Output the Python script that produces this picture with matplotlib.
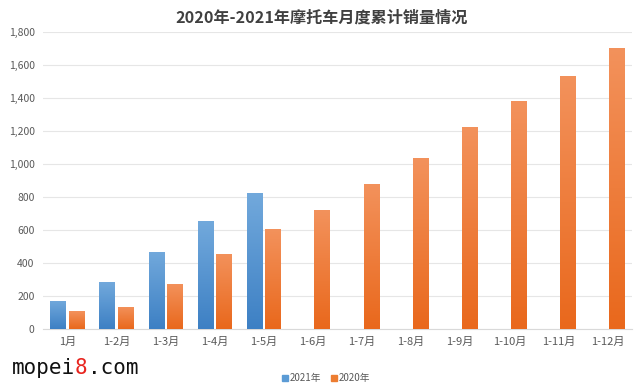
import numpy as np
import matplotlib
matplotlib.use("Agg")
import matplotlib.pyplot as plt
from matplotlib.colors import LinearSegmentedColormap
from matplotlib.patches import Patch

plt.rcParams['font.family'] = ['Noto Sans CJK SC', 'DejaVu Sans']

categories = ["1月", "1-2月", "1-3月", "1-4月", "1-5月", "1-6月", "1-7月", "1-8月", "1-9月", "1-10月", "1-11月", "1-12月"]
sales_2021 = [170, 283, 467, 652, 824, None, None, None, None, None, None, None]
sales_2020 = [109, 136, 273, 457, 605, 721, 880, 1038, 1226, 1380, 1536, 1706]
yticks = [0, 200, 400, 600, 800, 1000, 1200, 1400, 1600, 1800]

fig = plt.figure(figsize=(6.4, 3.9), dpi=100)
ax = fig.add_axes([43 / 640, 61 / 390, 589 / 640, 297 / 390])

x = np.arange(len(categories))
w = 0.32
off = 0.19

blue_cmap = LinearSegmentedColormap.from_list("b", ["#3d80c4", "#72a9dc"])
orange_cmap = LinearSegmentedColormap.from_list("o", ["#e9681c", "#f3925c"])
grad = np.linspace(0, 1, 256).reshape(-1, 1)

def grad_bars(xs, vals, cmap, base_color):
    bars = ax.bar(xs, [v if v is not None else 0 for v in vals], width=w, color=base_color, zorder=2)
    for b, v in zip(bars, vals):
        if v is None:
            b.set_visible(False)
            continue
        x0, y0 = b.get_x(), b.get_y()
        bw, bh = b.get_width(), b.get_height()
        im = ax.imshow(grad, extent=[x0, x0 + bw, y0, y0 + bh], origin="lower",
                       cmap=cmap, aspect="auto", zorder=3)
        im.set_clip_path(b)

grad_bars(x - off, sales_2021, blue_cmap, "#5b9bd5")
grad_bars(x + off, sales_2020, orange_cmap, "#ed7d31")

ax.set_xlim(-0.5, len(categories) - 0.5)
ax.set_ylim(0, 1800)
ax.set_yticks(yticks)
ax.set_yticklabels([f"{t:,}" for t in yticks], fontsize=7.5, color="#595959")
ax.set_xticks(x)
ax.set_xticklabels(categories, fontsize=8, color="#595959")
ax.tick_params(axis="both", length=0, pad=6)
ax.grid(axis="y", color="#e6e6e6", linewidth=0.8, zorder=0)
ax.set_axisbelow(True)
for s in ["top", "right", "left"]:
    ax.spines[s].set_visible(False)
ax.spines["bottom"].set_color("#d9d9d9")
ax.spines["bottom"].set_linewidth(0.8)

fig.text(0.502, 0.955, "2020年-2021年摩托车月度累计销量情况", ha="center", va="center",
         fontsize=11.6, fontweight="bold", color="#404040")

handles = [Patch(color="#5b9bd5", label="2021年"), Patch(color="#ed7d31", label="2020年")]
fig.legend(handles=handles, loc="center", bbox_to_anchor=(0.51, 0.03), ncol=2, frameon=False,
           fontsize=7, handlelength=0.6, handleheight=0.6, handletextpad=0.2, columnspacing=1.0,
           labelcolor="#595959")

ty = 1 - 368 / 390
t = fig.text(12 / 640, ty, "mopei", fontsize=15, family="DejaVu Sans Mono", color="#111111",
             ha="left", va="center")
fig.canvas.draw()
bb = t.get_window_extent()
t2 = fig.text(bb.x1 / fig.bbox.width, ty, "8", fontsize=15, family="DejaVu Sans Mono",
              color="#e8251f", ha="left", va="center")
bb2 = t2.get_window_extent()
fig.text(bb2.x1 / fig.bbox.width, ty, ".com", fontsize=15, family="DejaVu Sans Mono",
         color="#111111", ha="left", va="center")

fig.savefig("out.png", dpi=100, facecolor="white")
